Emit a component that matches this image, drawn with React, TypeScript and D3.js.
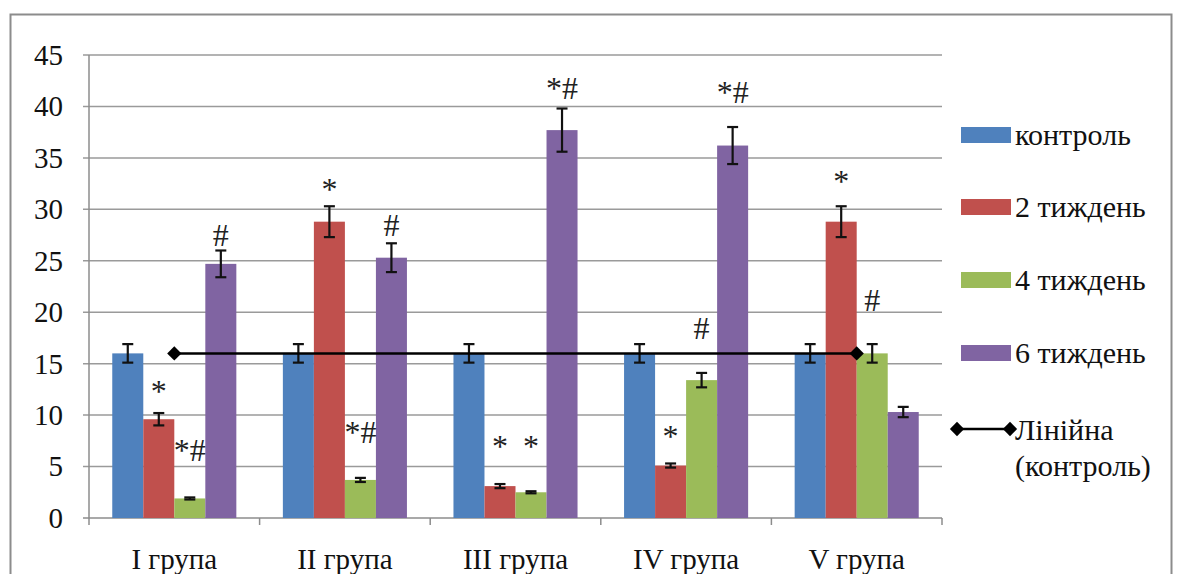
import React from "react";
import * as d3 from "d3";

const categories = ["I група", "II група", "III група", "IV група", "V група"];
const seriesNames = ["контроль", "2 тиждень", "4 тиждень", "6 тиждень"];
const colors = ["#4F81BD", "#C0504D", "#9BBB59", "#8064A2"];

const control = [16, 16, 16, 16, 16];
const week2 = [9.6, 28.8, 3.1, 5.1, 28.8];
const week4 = [1.9, 3.7, 2.5, 13.4, 16];
const week6 = [24.7, 25.3, 37.7, 36.2, 10.3];

const controlErr = [0.9, 0.9, 0.9, 0.9, 0.9];
const week2Err = [0.6, 1.5, 0.2, 0.2, 1.5];
const week4Err = [0.1, 0.2, 0.1, 0.7, 0.9];
const week6Err = [1.3, 1.4, 2.1, 1.8, 0.5];

// significance marks and the level (in axis units) where they sit
const week2Marks = ["*", "*", "*", "*", "*"];
const week2MarkAt = [12.9, 32.6, 7.6, 8.6, 33.3];
const week4Marks = ["*#", "*#", "*", "#", "#"];
const week4MarkAt = [6.6, 8.4, 7.6, 18.5, 21.2];
const week6Marks = ["#", "#", "*#", "*#", ""];
const week6MarkAt = [27.5, 28.5, 41.8, 41.4, 0];

const yTicks = [0, 5, 10, 15, 20, 25, 30, 35, 40, 45];

const FONT = "Liberation Serif";
const AXIS = "#8c8c8c";

const left = 89, right = 942, top = 55, bottom = 518;

const x = d3.scaleBand().domain(categories).range([left, right]).paddingInner(0).paddingOuter(0);
const inner = d3.scaleBand<number>().domain([0, 1, 2, 3])
  .range([0, x.bandwidth()]).paddingInner(0).paddingOuter(0.75);
const y = d3.scaleLinear().domain([0, 45]).range([bottom, top]);

const values = [control, week2, week4, week6];
const errors = [controlErr, week2Err, week4Err, week6Err];
const marks = [null, week2Marks, week4Marks, week6Marks];
const markAt = [null, week2MarkAt, week4MarkAt, week6MarkAt];

const barX = (s: number, i: number) => (x(categories[i]) as number) + (inner(s) as number);
const barCx = (s: number, i: number) => barX(s, i) + inner.bandwidth() / 2;
const catCx = (i: number) => (x(categories[i]) as number) + x.bandwidth() / 2;

// linear trend of the control series
const xs = control.map((_, i) => i);
const mx = d3.mean(xs) as number;
const my = d3.mean(control) as number;
const sxx = d3.sum(xs, v => (v - mx) * (v - mx));
const slope = sxx ? d3.sum(xs, (v, i) => (v - mx) * (control[i] - my)) / sxx : 0;
const trend = [0, categories.length - 1].map(i => ({ i, v: my + slope * (i - mx) }));
const trendPath = d3.line<{ i: number; v: number }>().x(d => catCx(d.i)).y(d => y(d.v))(trend) as string;
const diamond = d3.symbol().type(d3.symbolDiamond2).size(130)() as string;

const legendY = [135, 207, 280, 353];
const ly = 429;

const textStyle = (size: number) => ({ fontFamily: FONT, fontSize: size });

function Chart() {
  const boundaries = d3.range(categories.length + 1).map(i => left + i * x.step());
  return (
    <svg
      width={1182}
      height={574}
      style={{ position: "absolute", left: 0, top: 0, background: "#fff" }}
    >
      <rect x={10.5} y={14.5} width={1161} height={600} fill="#fff" stroke={AXIS} strokeWidth={2} />

      {/* gridlines */}
      {yTicks.filter(t => t > 0).map(t => (
        <line key={t} x1={left - 6} x2={right} y1={y(t)} y2={y(t)} stroke="#9a9a9a" strokeWidth={1.5} />
      ))}

      {/* y axis */}
      <line x1={left} x2={left} y1={top} y2={bottom} stroke={AXIS} strokeWidth={1.5} />
      {yTicks.map(t => (
        <text key={t} x={left - 26} y={y(t)} dy="0.34em" textAnchor="end" fill="#111" style={textStyle(29)}>
          {t}
        </text>
      ))}

      {/* x axis */}
      <line x1={left - 6} x2={right} y1={bottom} y2={bottom} stroke={AXIS} strokeWidth={1.5} />
      {boundaries.map(b => (
        <line key={b} x1={b} x2={b} y1={bottom} y2={bottom + 7} stroke={AXIS} strokeWidth={1.5} />
      ))}
      {categories.map((c, i) => (
        <text key={c} x={catCx(i)} y={569} textAnchor="middle" fill="#111" style={textStyle(29)}>
          {c}
        </text>
      ))}

      {/* bars */}
      {values.map((vals, s) => (
        <g key={s} fill={colors[s]}>
          {vals.map((v, i) => (
            <rect key={i} x={barX(s, i)} y={y(v)} width={inner.bandwidth()} height={bottom - y(v)} />
          ))}
        </g>
      ))}

      {/* error bars */}
      {values.map((vals, s) => (
        <g key={s} stroke="#111" strokeWidth={2.2}>
          {vals.map((v, i) => {
            const cx = barCx(s, i);
            const e = errors[s][i];
            return (
              <g key={i}>
                <line x1={cx} x2={cx} y1={y(v + e)} y2={y(v - e)} />
                <line x1={cx - 5.5} x2={cx + 5.5} y1={y(v + e)} y2={y(v + e)} />
                <line x1={cx - 5.5} x2={cx + 5.5} y1={y(v - e)} y2={y(v - e)} />
              </g>
            );
          })}
        </g>
      ))}

      {/* significance marks */}
      {marks.map((m, s) =>
        m
          ? m.map((label, i) =>
              label ? (
                <text
                  key={`${s}-${i}`}
                  x={barCx(s, i)}
                  y={y((markAt[s] as number[])[i]) + (label === "*" ? 17 : 11)}
                  textAnchor="middle"
                  fill="#222"
                  style={textStyle(32)}
                >
                  {label}
                </text>
              ) : null
            )
          : null
      )}

      {/* trend line */}
      <path d={trendPath} stroke="#000" strokeWidth={2.5} fill="none" />
      {trend.map(d => (
        <path key={d.i} d={diamond} transform={`translate(${catCx(d.i)},${y(d.v)})`} fill="#000" />
      ))}

      {/* legend */}
      {seriesNames.map((name, s) => (
        <g key={name}>
          <rect x={961} y={legendY[s] - 8} width={50} height={16} fill={colors[s]} />
          <text x={1015} y={legendY[s] + 10} fill="#111" style={textStyle(30)}>
            {name}
          </text>
        </g>
      ))}
      <line x1={957} x2={1010} y1={ly} y2={ly} stroke="#000" strokeWidth={2.5} />
      {[957, 1010].map(px => (
        <path key={px} d={diamond} transform={`translate(${px},${ly})`} fill="#000" />
      ))}
      <text x={1015} y={ly + 11} fill="#111" style={textStyle(30)}>
        Лінійна
      </text>
      <text x={1015} y={ly + 47} fill="#111" style={textStyle(30)}>
        (контроль)
      </text>
    </svg>
  );
}

export default function App() {
  return <Chart />;
}
